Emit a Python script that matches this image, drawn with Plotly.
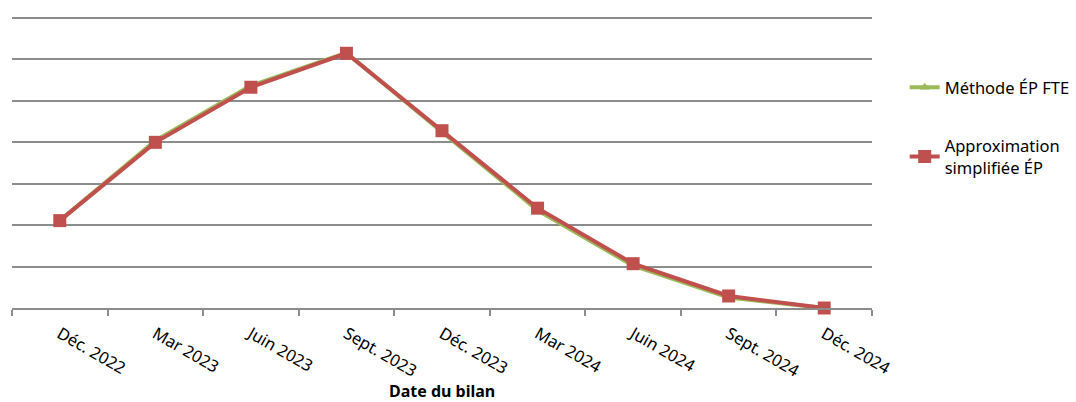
import plotly.graph_objects as go

# Balance-sheet dates
dates = ["Déc. 2022", "Mar 2023", "Juin 2023", "Sept. 2023", "Déc. 2023",
         "Mar 2024", "Juin 2024", "Sept. 2024", "Déc. 2024"]

# Series values
methode_ep_fte = [2.11, 4.04, 5.37, 6.16, 4.25, 2.36, 1.02, 0.25, 0.0]
approx_simplifiee_ep = [2.11, 4.00, 5.33, 6.15, 4.28, 2.41, 1.07, 0.29, 0.0]

GREEN = "#9BBB59"
RED = "#C0504D"
GRID = "#8C8C8C"
FONT = "Noto Sans"

fig = go.Figure()
fig.add_trace(go.Scatter(
    x=dates, y=methode_ep_fte, mode="lines+markers",
    name="Méthode ÉP FTE", legendgroup="fte", cliponaxis=False,
    line=dict(color=GREEN, width=4),
    marker=dict(symbol="triangle-up", size=9, color=GREEN),
))
fig.add_trace(go.Scatter(
    x=dates, y=approx_simplifiee_ep, mode="lines+markers",
    name="Approximation<br>simplifiée ÉP", legendgroup="approx", cliponaxis=False,
    line=dict(color=RED, width=4),
    marker=dict(symbol="square", size=13, color=RED),
))

fig.update_layout(
    width=1076, height=402,
    margin=dict(l=12, r=204, t=16, b=94, autoexpand=False),
    paper_bgcolor="white", plot_bgcolor="white",
    font=dict(family=FONT, size=16, color="#000000"),
    showlegend=True,
    legend=dict(x=1.038, y=0.815, xanchor="left", yanchor="top",
                font=dict(family=FONT, size=16.5), tracegroupgap=34,
                bgcolor="rgba(0,0,0,0)"),
    xaxis=dict(
        type="category", tickangle=30, tickson="boundaries",
        ticks="outside", ticklen=6, tickcolor=GRID, tickwidth=1.5,
        showline=True, linecolor=GRID, linewidth=2,
        showgrid=False, zeroline=False,
        tickfont=dict(family=FONT, size=16.5),
        ticklabelstandoff=8,
        range=[-0.5, 8.5],
    ),
    yaxis=dict(
        range=[0, 7.05], tickvals=[1, 2, 3, 4, 5, 6, 7], showticklabels=False,
        showgrid=True, gridcolor=GRID, gridwidth=2,
        zeroline=False, showline=False, ticks="",
    ),
    annotations=[dict(
        text="<b>Date du bilan</b>", x=0.5, y=-0.283,
        xref="paper", yref="paper", xanchor="center", yanchor="middle",
        showarrow=False, font=dict(family=FONT, size=16),
    )],
)

fig.write_html("out.html")
